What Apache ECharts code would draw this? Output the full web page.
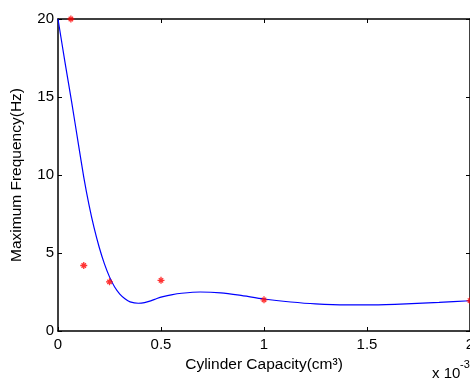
<!DOCTYPE html>
<html>
<head>
<meta charset="utf-8">
<script src="https://cdn.jsdelivr.net/npm/echarts@6/dist/echarts.min.js"></script>
<style>
html,body{margin:0;padding:0;background:#fff;}
#c{width:470px;height:379px;}
</style>
</head>
<body>
<div id="c"></div>
<script>
// Data (x in units of 1e-3 cm^3)
const markerX = [0.0625, 0.125, 0.25, 0.5, 1.0, 2.0];
const markerY = [20, 4.2, 3.15, 3.25, 2.0, 1.95];
const curveX = [0, 0.033, 0.066, 0.1, 0.125, 0.15, 0.175, 0.2, 0.225, 0.25, 0.275, 0.3, 0.325, 0.35, 0.39, 0.42, 0.45, 0.48, 0.51, 0.55, 0.6, 0.69, 0.79, 0.88, 1.0, 1.13, 1.25, 1.4, 1.53, 1.69, 1.85, 2.0];
const curveY = [20, 17.3, 14.7, 11.9, 9.87, 8.12, 6.62, 5.37, 4.32, 3.47, 2.82, 2.37, 2.07, 1.87, 1.78, 1.82, 1.93, 2.08, 2.2, 2.32, 2.42, 2.5, 2.45, 2.3, 2.05, 1.86, 1.74, 1.68, 1.68, 1.74, 1.84, 1.94];
const xTicks = [0, 0.5, 1, 1.5, 2];
const yTicks = [0, 5, 10, 15, 20];
const xTitle = 'Cylinder Capacity(cm³)';
const yTitle = 'Maximum Frequency(Hz)';
const xScaleBase = 'x 10';
const xScaleExp = '-3';

const FONT = "'Liberation Sans', Arial, Helvetica, sans-serif";
const chart = echarts.init(document.getElementById('c'), null, {renderer: 'canvas'});

const axisLine = {show: true, onZero: false, lineStyle: {color: '#000', width: 1.5}};
const tick = {show: true, inside: true, length: 4, lineStyle: {color: '#000', width: 1}};

chart.setOption({
  animation: false,
  backgroundColor: '#fff',
  grid: {left: 58, top: 19, right: 0, bottom: 48, containLabel: false, outerBoundsMode: 'none'},
  xAxis: [{
    type: 'value', min: xTicks[0], max: xTicks[xTicks.length - 1], interval: xTicks[1] - xTicks[0],
    position: 'bottom',
    axisLine: axisLine, axisTick: tick, splitLine: {show: false},
    axisLabel: {color: '#000', fontFamily: FONT, fontSize: 15, margin: 6, showMinLabel: true, showMaxLabel: true,
      formatter: v => String(v)},
    name: xTitle, nameLocation: 'middle', nameGap: 25,
    nameTextStyle: {color: '#000', fontFamily: FONT, fontSize: 15.5}
  }, {
    type: 'value', min: xTicks[0], max: xTicks[xTicks.length - 1], interval: xTicks[1] - xTicks[0],
    position: 'top',
    axisLine: axisLine, axisTick: tick, splitLine: {show: false}, axisLabel: {show: false}
  }],
  yAxis: [{
    type: 'value', min: yTicks[0], max: yTicks[yTicks.length - 1], interval: yTicks[1] - yTicks[0],
    position: 'left',
    axisLine: axisLine, axisTick: tick, splitLine: {show: false},
    axisLabel: {color: '#000', fontFamily: FONT, fontSize: 15, margin: 4, showMinLabel: true, showMaxLabel: true},
    name: yTitle, nameLocation: 'middle', nameGap: 33,
    nameTextStyle: {color: '#000', fontFamily: FONT, fontSize: 15.5}
  }, {
    type: 'value', min: yTicks[0], max: yTicks[yTicks.length - 1], interval: yTicks[1] - yTicks[0],
    position: 'right',
    axisLine: axisLine, axisTick: tick, splitLine: {show: false}, axisLabel: {show: false}
  }],
  graphic: [
    {type: 'text', left: 432, top: 366, style: {text: xScaleBase, fill: '#000', font: '15px ' + FONT}},
    {type: 'text', left: 460, top: 359, style: {text: xScaleExp, fill: '#000', font: '11px ' + FONT}}
  ],
  series: [{
    type: 'line', xAxisIndex: 0, yAxisIndex: 0,
    data: curveX.map((x, i) => [x, curveY[i]]),
    smooth: 0.25, showSymbol: false, symbol: 'none',
    lineStyle: {color: '#0000ff', width: 1.2},
    z: 2
  }, {
    type: 'scatter', xAxisIndex: 0, yAxisIndex: 0, clip: false,
    data: markerX.map((x, i) => [x, markerY[i]]),
    symbol: 'path://M0,4L8,4M4,0L4,8M1.5,1.5L6.5,6.5M6.5,1.5L1.5,6.5',
    symbolSize: 7,
    itemStyle: {color: '#ff0000', borderColor: '#ff0000', borderWidth: 1.3},
    z: 3
  }]
});
</script>
</body>
</html>
